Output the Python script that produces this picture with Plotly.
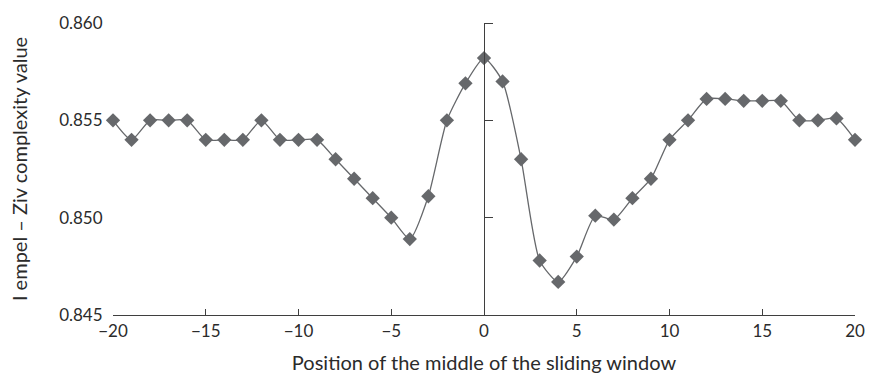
import plotly.graph_objects as go

positions = list(range(-20, 21))
lz_values = [
    0.8550, 0.8540, 0.8550, 0.8550, 0.8550, 0.8540, 0.8540, 0.8540, 0.8550, 0.8540,
    0.8540, 0.8540, 0.8530, 0.8520, 0.8510, 0.8500, 0.8489, 0.8511, 0.8550, 0.8569,
    0.8582,
    0.8570, 0.8530, 0.8478, 0.8467, 0.8480, 0.8501, 0.8499, 0.8510, 0.8520, 0.8540,
    0.8550, 0.8561, 0.8561, 0.8560, 0.8560, 0.8560, 0.8550, 0.8550, 0.8551, 0.8540,
]
x_ticks = [-20, -15, -10, -5, 0, 5, 10, 15, 20]
y_ticks = [0.845, 0.850, 0.855, 0.860]
y_tick_text = ["0.845", "0.850", "0.855", "0.860"]

FONT = "Lato"
GRAY = "#66686b"
AXIS = "#3f3f3f"

fig = go.Figure()
fig.add_trace(go.Scatter(
    x=positions, y=lz_values, mode="lines+markers",
    line=dict(color=GRAY, width=1.3, shape="spline", smoothing=0.6),
    marker=dict(symbol="diamond", size=11, color=GRAY),
    cliponaxis=False, showlegend=False,
))
# invisible trace to activate the axis placed at x = 0
fig.add_trace(go.Scatter(x=[0], y=[0.85], yaxis="y2", mode="markers",
                         marker=dict(opacity=0), showlegend=False, hoverinfo="skip"))

fig.update_layout(
    width=877, height=383,
    margin=dict(l=113, r=21, t=16, b=67),
    paper_bgcolor="white", plot_bgcolor="white",
    font=dict(family=FONT, size=17, color="#2b2b2b"),
    xaxis=dict(
        range=[-20, 20], tickvals=x_ticks, ticks="inside", ticklen=6,
        tickcolor=AXIS, tickwidth=1, showline=True, linecolor=AXIS, linewidth=1.2,
        showgrid=False, zeroline=False,
        title=dict(text="Position of the middle of the sliding window", standoff=16),
    ),
    yaxis=dict(
        range=[0.845, 0.860], tickvals=y_ticks, ticktext=y_tick_text,
        ticks="outside", ticklen=6, tickcolor="rgba(0,0,0,0)",
        showline=False, showgrid=False, zeroline=False,
        title=dict(text="I empel – Ziv complexity value", standoff=26),
    ),
    yaxis2=dict(
        range=[0.845, 0.860], tickvals=y_ticks, overlaying="y", anchor="free",
        position=0.5, side="right", ticks="outside", ticklen=8, tickcolor=AXIS,
        tickwidth=1.2, showline=True, linecolor=AXIS, linewidth=1.4,
        showticklabels=False, showgrid=False, zeroline=False,
    ),
)

fig.write_html("out.html", config={"displayModeBar": False},
               post_script="document.body.style.margin='0';")
